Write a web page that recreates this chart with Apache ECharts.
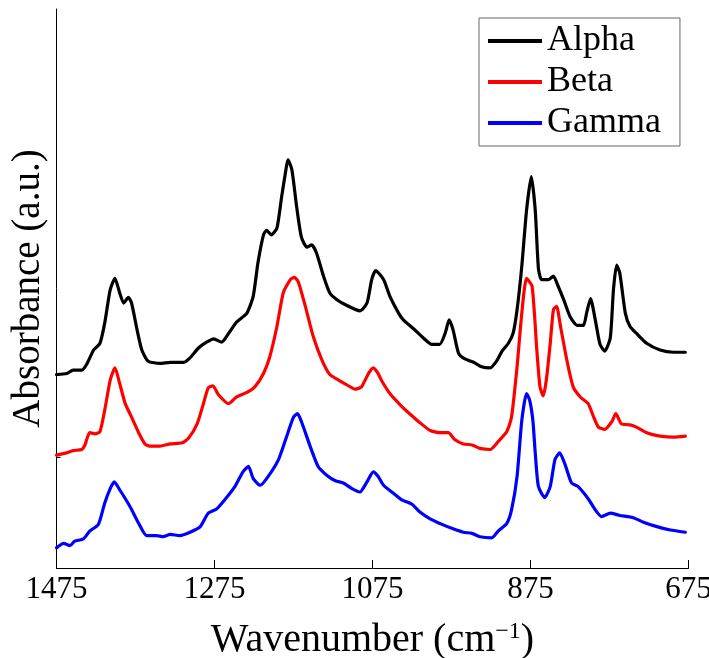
<!DOCTYPE html>
<html>
<head>
<meta charset="utf-8">
<script src="https://cdn.jsdelivr.net/npm/echarts@6/dist/echarts.min.js"></script>
<style>
html,body{margin:0;padding:0;background:#fff;}
#chart{width:709px;height:658px;}
</style>
</head>
<body>
<div id="chart"></div>
<script>
const seriesNames = ['Alpha', 'Beta', 'Gamma'];
const xTicks = [675, 875, 1075, 1275, 1475];

const alphaWn = [1475,1462,1454,1443,1437,1428,1420,1414,1407,1401,1395,1390,1384,1380,1373,1367,1359,1344,1331,1314,1306,1295,1285,1276,1266,1257,1247,1234,1226,1220,1213,1209,1203,1196,1190,1184,1182,1177,1171,1165,1158,1152,1146,1137,1129,1120,1108,1091,1082,1076,1071,1061,1053,1042,1036,1023,1011,1000,990,983,978,973,966,958,947,937,926,918,911,903,897,892,886,880,874,869,865,861,852,846,840,833,825,816,808,804,799,793,787,781,774,770,766,762,755,749,741,728,711,694,679];
const alphaAbs = [1.73,1.74,1.77,1.77,1.82,1.95,2.01,2.19,2.49,2.59,2.46,2.37,2.42,2.37,2.13,1.95,1.85,1.83,1.84,1.84,1.88,1.97,2.02,2.05,2.02,2.10,2.20,2.28,2.43,2.73,2.98,3.02,2.98,3.04,3.32,3.59,3.65,3.56,3.23,2.96,2.87,2.89,2.82,2.61,2.46,2.40,2.35,2.30,2.37,2.58,2.66,2.58,2.43,2.28,2.22,2.14,2.06,2.00,2.00,2.10,2.22,2.13,1.92,1.87,1.84,1.80,1.79,1.85,1.94,2.01,2.10,2.31,2.70,3.20,3.50,3.20,2.68,2.58,2.58,2.61,2.52,2.40,2.25,2.17,2.17,2.28,2.41,2.22,2.00,1.94,2.06,2.49,2.71,2.64,2.28,2.16,2.10,2.01,1.95,1.93,1.93];

const betaWn = [1475,1462,1454,1443,1439,1433,1426,1420,1414,1407,1401,1395,1388,1380,1371,1363,1357,1344,1331,1316,1308,1297,1289,1283,1277,1270,1257,1247,1234,1224,1213,1205,1196,1188,1179,1174,1169,1160,1150,1139,1129,1118,1108,1097,1089,1080,1074,1068,1063,1053,1040,1028,1015,1002,990,979,971,960,949,939,926,916,905,899,892,886,880,873,867,863,859,855,850,846,842,837,829,821,812,802,795,789,781,772,767,760,749,741,728,711,694,679];
const betaAbs = [1.01,1.03,1.05,1.06,1.10,1.21,1.20,1.22,1.41,1.68,1.79,1.65,1.47,1.35,1.21,1.11,1.09,1.09,1.11,1.12,1.16,1.29,1.47,1.61,1.63,1.55,1.47,1.53,1.57,1.62,1.74,1.89,2.16,2.46,2.58,2.60,2.56,2.34,2.07,1.86,1.73,1.68,1.64,1.60,1.62,1.74,1.79,1.74,1.67,1.56,1.46,1.38,1.30,1.23,1.21,1.21,1.15,1.11,1.10,1.07,1.06,1.13,1.22,1.35,1.80,2.28,2.59,2.52,1.95,1.62,1.54,1.68,2.01,2.31,2.34,2.16,1.86,1.62,1.53,1.47,1.35,1.26,1.24,1.31,1.38,1.29,1.28,1.26,1.21,1.18,1.17,1.18];

const gammaWn = [1475,1466,1458,1452,1441,1433,1422,1414,1407,1402,1395,1382,1371,1361,1348,1340,1331,1319,1306,1293,1283,1272,1262,1249,1239,1232,1226,1217,1207,1194,1184,1175,1170,1165,1154,1144,1133,1122,1112,1101,1091,1082,1074,1068,1061,1049,1038,1025,1015,1002,987,973,960,949,939,924,916,905,899,892,886,880,876,872,869,865,857,850,844,838,831,823,815,802,793,785,774,762,745,732,715,698,679];
const gammaAbs = [0.18,0.22,0.20,0.24,0.26,0.33,0.39,0.58,0.71,0.77,0.70,0.55,0.40,0.29,0.29,0.28,0.30,0.29,0.32,0.37,0.49,0.53,0.61,0.73,0.86,0.91,0.80,0.74,0.82,0.97,1.17,1.35,1.38,1.31,1.09,0.91,0.83,0.78,0.76,0.71,0.68,0.77,0.86,0.82,0.74,0.67,0.61,0.57,0.50,0.44,0.39,0.35,0.32,0.31,0.28,0.27,0.33,0.40,0.52,0.82,1.32,1.56,1.50,1.32,1.03,0.73,0.63,0.73,0.97,1.03,0.92,0.76,0.73,0.62,0.52,0.46,0.49,0.47,0.45,0.41,0.37,0.34,0.32];

const yTicks = [0.99, 1.73];
const colors = ['#000000', '#ff0000', '#0000ff'];

function zip(xs, ys) { return xs.map((x, i) => [x, ys[i]]); }
const allData = [zip(alphaWn, alphaAbs), zip(betaWn, betaAbs), zip(gammaWn, gammaAbs)];

const serif = '"Liberation Serif", "DejaVu Serif", serif';
const chart = echarts.init(document.getElementById('chart'));
chart.setOption({
  animation: false,
  backgroundColor: '#ffffff',
  grid: { left: 56.5, right: 20.5, top: 9, bottom: 90, containLabel: false, outerBoundsMode: 'none' },
  legend: {
    orient: 'vertical',
    left: 479, top: 18,
    data: seriesNames,
    icon: 'rect',
    itemWidth: 54, itemHeight: 4,
    itemGap: 5,
    padding: [5, 19, 5, 9],
    borderColor: '#666666', borderWidth: 1,
    backgroundColor: '#ffffff',
    textStyle: { fontFamily: serif, fontSize: 36, color: '#000', lineHeight: 36 }
  },
  xAxis: {
    type: 'value', inverse: true, min: 675, max: 1475, interval: 200,
    name: '{a|Wavenumber (cm}{s|−1}{a|)}',
    nameLocation: 'middle', nameGap: 52,
    nameTextStyle: {
      rich: {
        a: { fontFamily: serif, fontSize: 40, color: '#000', lineHeight: 40 },
        s: { fontFamily: serif, fontSize: 24, color: '#000', verticalAlign: 'top', lineHeight: 24 }
      }
    },
    axisLine: { show: true, lineStyle: { color: '#000', width: 1 } },
    axisTick: { show: true, inside: true, length: 8, customValues: xTicks, lineStyle: { color: '#000' } },
    axisLabel: { show: true, margin: 6, customValues: xTicks, formatter: v => String(v), fontFamily: serif, fontSize: 31, color: '#000' },
    splitLine: { show: false }
  },
  yAxis: {
    type: 'value', min: 0, max: 5,
    name: 'Absorbance (a.u.)',
    nameLocation: 'middle', nameGap: 8,
    nameTextStyle: { fontFamily: serif, fontSize: 39, color: '#000' },
    axisLine: { show: true, lineStyle: { color: '#000', width: 1 } },
    axisTick: { show: true, inside: true, length: 4, customValues: yTicks, lineStyle: { color: '#000' } },
    axisLabel: { show: false },
    splitLine: { show: false }
  },
  series: seriesNames.map((n, i) => ({
    name: n, type: 'line', data: allData[i],
    color: colors[i],
    showSymbol: false, smooth: 0.2,
    lineStyle: { color: colors[i], width: 3.2, cap: 'round', join: 'round' }
  }))
});
</script>
</body>
</html>
